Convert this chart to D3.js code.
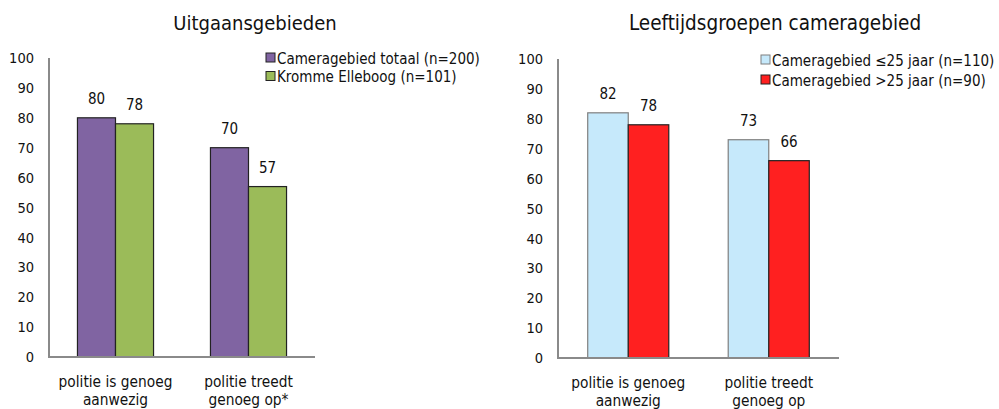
<!DOCTYPE html>
<html>
<head>
<meta charset="utf-8">
<script src="https://cdnjs.cloudflare.com/ajax/libs/d3/7.8.5/d3.min.js"></script>
<style>
body { margin: 0; background: #fff; }
text { font-family: "DejaVu Sans Condensed", "DejaVu Sans", sans-serif; fill: #111; }
</style>
</head>
<body>
<div id="chart"></div>
<script>
var categories = [["politie is genoeg", "aanwezig"], ["politie treedt", "genoeg op*"]];
var categoriesAge = [["politie is genoeg", "aanwezig"], ["politie treedt", "genoeg op"]];
var seriesArea = ["Cameragebied totaal (n=200)", "Kromme Elleboog (n=101)"];
var valuesTotaal = [80, 70];
var valuesKromme = [78, 57];
var seriesAge = ["Cameragebied \u226425 jaar (n=110)", "Cameragebied >25 jaar (n=90)"];
var valuesJong = [82, 73];
var valuesOud = [78, 66];
var yTicks = [0, 10, 20, 30, 40, 50, 60, 70, 80, 90, 100];

var svg = d3.select("#chart").append("svg").attr("width", 999).attr("height", 409);

function drawChart(opt) {
	var g = svg.append("g");
	var y = d3.scaleLinear().domain([0, 100]).range([opt.bottom, opt.top]);
	var x = d3.scaleBand().domain(d3.range(opt.cats.length)).range([opt.left, opt.right]).paddingInner(0).paddingOuter(0);
	var groupW = x.bandwidth() * opt.groupFrac;
	var xs = d3.scaleBand().domain(d3.range(opt.series.length)).range([0, groupW]);

	// title
	g.append("text").attr("x", opt.titleX).attr("y", 30).attr("text-anchor", "middle")
		.attr("font-size", opt.titleSize).text(opt.title);

	// y axis
	var yAxis = d3.axisLeft(y).tickValues(yTicks).tickSize(0).tickPadding(opt.left - opt.tickRight);
	var ya = g.append("g").attr("transform", "translate(" + opt.left + ",0)").call(yAxis);
	ya.select(".domain").remove();
	ya.selectAll("text").attr("font-size", "14.5px").style("font-family", "'DejaVu Sans Condensed'").attr("fill", "#111");

	// bars
	opt.series.forEach(function(s, si) {
		var vals = opt.values[si];
		g.selectAll(".bar" + si).data(vals).enter().append("rect")
			.attr("x", function(d, i) { return x(i) + (x.bandwidth() - groupW) / 2 + xs(si); })
			.attr("y", function(d) { return y(d); })
			.attr("width", xs.bandwidth())
			.attr("height", function(d) { return y(0) - y(d); })
			.attr("fill", opt.colors[si])
			.attr("stroke", opt.strokes[si]).attr("stroke-width", 1.2);
		g.selectAll(".lab" + si).data(vals).enter().append("text")
			.attr("x", function(d, i) { return x(i) + (x.bandwidth() - groupW) / 2 + xs(si) + xs.bandwidth() / 2; })
			.attr("y", function(d) { return y(d) - 14; })
			.attr("text-anchor", "middle").attr("font-size", "15px").text(function(d) { return d; });
	});

	// axis lines
	g.append("line").attr("x1", opt.left).attr("x2", opt.left).attr("y1", opt.top).attr("y2", opt.bottom + 1)
		.attr("stroke", "#8a8a8a").attr("stroke-width", 2);
	g.append("line").attr("x1", opt.left - 1).attr("x2", opt.right).attr("y1", opt.bottom).attr("y2", opt.bottom)
		.attr("stroke", "#8a8a8a").attr("stroke-width", 2);

	// category labels
	opt.cats.forEach(function(c, i) {
		var t = g.append("text").attr("x", x(i) + x.bandwidth() / 2).attr("y", opt.bottom + 30)
			.attr("text-anchor", "middle").attr("font-size", "15.3px");
		c.forEach(function(line, li) {
			t.append("tspan").attr("x", x(i) + x.bandwidth() / 2).attr("dy", li === 0 ? 0 : 18).text(line);
		});
	});

	// legend
	opt.series.forEach(function(s, si) {
		var ly = opt.legendY + si * opt.legendStep;
		g.append("rect").attr("x", opt.legendX).attr("y", ly - 5).attr("width", 9).attr("height", 9)
			.attr("fill", opt.colors[si]).attr("stroke", opt.strokes[si]).attr("stroke-width", 1);
		g.append("text").attr("x", opt.legendX + 11).attr("y", ly + 5.5).attr("font-size", "15px").text(s);
	});
}

drawChart({
	title: "Uitgaansgebieden", titleX: 255, titleSize: "20px",
	left: 49, right: 315, top: 58, bottom: 357, tickRight: 34,
	cats: categories, series: seriesArea, values: [valuesTotaal, valuesKromme],
	colors: ["#8064a2", "#9bbb59"], strokes: ["#222", "#222"], groupFrac: 0.572,
	legendX: 266, legendY: 58, legendStep: 18.5
});

drawChart({
	title: "Leeftijdsgroepen cameragebied", titleX: 775, titleSize: "20.5px",
	left: 558, right: 839, top: 59, bottom: 358, tickRight: 543,
	cats: categoriesAge, series: seriesAge, values: [valuesJong, valuesOud],
	colors: ["#c6e9fb", "#ff2020"], strokes: ["#7f7f7f", "#222"], groupFrac: 0.577,
	legendX: 761, legendY: 60, legendStep: 20
});
</script>
</body>
</html>
